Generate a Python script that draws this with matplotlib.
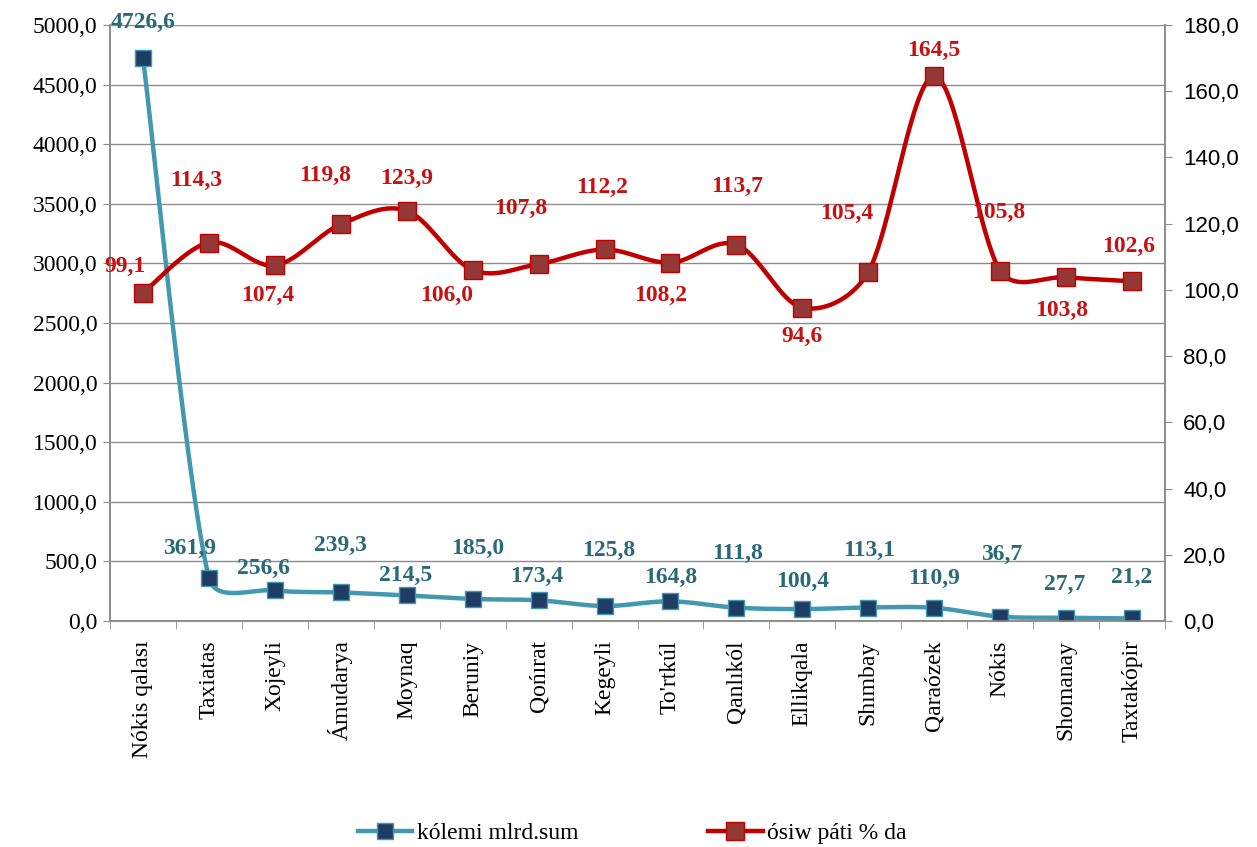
import numpy as np
import matplotlib
matplotlib.use("Agg")
import matplotlib.pyplot as plt
from matplotlib.lines import Line2D

categories = ["Nókis qalası", "Taxiatas", "Xojeyli", "Ámudarya", "Moynaq", "Beruniy",
              "Qońırat", "Kegeyli", "To'rtkúl", "Qanlıkól", "Ellikqala", "Shımbay",
              "Qaraózek", "Nókis", "Shomanay", "Taxtakópir"]
volume = [4726.6, 361.9, 256.6, 239.3, 214.5, 185.0, 173.4, 125.8, 164.8, 111.8,
          100.4, 113.1, 110.9, 36.7, 27.7, 21.2]
growth = [99.1, 114.3, 107.4, 119.8, 123.9, 106.0, 107.8, 112.2, 108.2, 113.7,
          94.6, 105.4, 164.5, 105.8, 103.8, 102.6]
series_names = ["kólemi mlrd.sum", "ósiw páti % da"]

# label offsets in pixels (style)
vol_off = [(0, 35), (-19, 29), (-11, 22), (0, 47), (-1, 20), (5, 50), (-2, 24), (4, 56),
           (0, 24), (1, 54), (0, 28), (1, 57), (0, 29), (2, 62), (-1, 33), (0, 41)]
gr_off = [(-18, 26), (-13, 62), (-7, -30), (-16, 49), (0, 32), (-26, -25), (-18, 56),
          (-2, 62), (-10, -33), (1, 58), (0, -29), (-22, 59), (0, 26), (-1, 58),
          (-4, -33), (-3, 35)]

SERIF = ["Liberation Serif", "DejaVu Serif"]
SANS = ["Liberation Sans", "DejaVu Sans"]
plt.rcParams['font.family'] = SERIF

BLUE_LINE = "#4198AF"
BLUE_MARK = "#1F3D64"
BLUE_TXT = "#2A6A78"
RED_LINE = "#C00000"
RED_MARK = "#953735"
RED_TXT = "#C81010"

fig = plt.figure(figsize=(12.57, 8.47), dpi=100)
ax = fig.add_axes([110 / 1257, 1 - 621 / 847, (1165 - 110) / 1257, (621 - 25) / 847])
ax2 = ax.twinx()

n = len(categories)
x = np.arange(n)
ax.set_xlim(-0.5, n - 0.5)
ax.set_ylim(0, 5000)
ax2.set_ylim(0, 180)


def smooth(xs, ys, yrange, clamp=0.4, steps=40):
    # Bezier (Catmull-Rom style) smoothing in screen-like space, arms clamped by segment length
    px = np.asarray(xs, float) * 66.0
    py = np.asarray(ys, float) / yrange * 596.0
    P = np.column_stack([px, py])
    m = len(P)
    arms = []
    for i in range(m):
        a = P[max(i - 1, 0)]
        b = P[min(i + 1, m - 1)]
        arms.append((b - a) / 6.0)

    def lim(v, L):
        nv = np.linalg.norm(v)
        return v if nv <= clamp * L else v * (clamp * L / nv)

    out = []
    t = np.linspace(0, 1, steps, endpoint=False)[:, None]
    for i in range(m - 1):
        p1, p2 = P[i], P[i + 1]
        L = np.linalg.norm(p2 - p1)
        c1 = p1 + lim(arms[i], L)
        c2 = p2 - lim(arms[i + 1], L)
        B = ((1 - t) ** 3) * p1 + 3 * ((1 - t) ** 2) * t * c1 + 3 * (1 - t) * t ** 2 * c2 + t ** 3 * p2
        out.append(B)
    out.append(P[-1][None, :])
    out = np.vstack(out)
    return out[:, 0] / 66.0, out[:, 1] / 596.0 * yrange


sx, sy = smooth(x, volume, 5000)
ax.plot(sx, sy, color=BLUE_LINE, lw=3.2, zorder=3)
ax.plot(x, volume, ls="none", marker="s", ms=12, mfc=BLUE_MARK, mec=BLUE_LINE, mew=1, zorder=4)

rx, ry = smooth(x, growth, 180)
ax2.plot(rx, ry, color=RED_LINE, lw=3.2, zorder=3)
ax2.plot(x, growth, ls="none", marker="s", ms=12.5, mfc=RED_MARK, mec=RED_LINE, mew=1, zorder=4)

fmt = lambda v: f"{v:.1f}".replace(".", ",")
for i, v in enumerate(volume):
    dx, dy = vol_off[i]
    ax.annotate(fmt(v), (x[i], v), xytext=(dx * 0.72, dy * 0.72), textcoords="offset points",
                ha="center", va="center", fontsize=17, fontweight="bold", color=BLUE_TXT, zorder=6)
for i, v in enumerate(growth):
    dx, dy = gr_off[i]
    ax2.annotate(fmt(v), (x[i], v), xytext=(dx * 0.72, dy * 0.72), textcoords="offset points",
                 ha="center", va="center", fontsize=17, fontweight="bold", color=RED_TXT, zorder=6)

ax.set_yticks(np.arange(0, 5001, 500))
ax.set_yticklabels([fmt(v) for v in np.arange(0, 5001, 500)], fontsize=17)
ax2.set_yticks(np.arange(0, 181, 20))
ax2.set_yticklabels([fmt(v) for v in np.arange(0, 181, 20)], fontsize=16, family=SANS)
ax.grid(axis="y", color="#8C8C8C", lw=1)
ax.set_axisbelow(True)

ax.set_xticks(x)
ax.set_xticklabels(categories, rotation=90, fontsize=17, va="top")
ax.set_xticks(np.arange(-0.5, n, 1), minor=True)
ax.tick_params(axis="x", which="major", length=0, pad=14)
ax.tick_params(axis="x", which="minor", length=6, color="#8C8C8C", direction="out")
ax.tick_params(axis="y", length=5, color="#8C8C8C", pad=4)
ax2.tick_params(axis="y", length=5, color="#8C8C8C", pad=8)

for a in (ax, ax2):
    a.spines["top"].set_visible(False)
    for s in ("left", "right", "bottom"):
        a.spines[s].set_color("#8C8C8C")
        a.spines[s].set_linewidth(1.2)

handles = [Line2D([], [], color=BLUE_LINE, lw=3.2, marker="s", ms=12, mfc=BLUE_MARK, mec=BLUE_LINE),
           Line2D([], [], color=RED_LINE, lw=3.2, marker="s", ms=12.5, mfc=RED_MARK, mec=RED_LINE)]
fig.legend(handles, series_names, loc="center", bbox_to_anchor=(0.503, 0.016), ncol=2,
           frameon=False, fontsize=17, columnspacing=5.5, handlelength=2.3, handletextpad=0.2)

fig.savefig("out.png", dpi=100)
